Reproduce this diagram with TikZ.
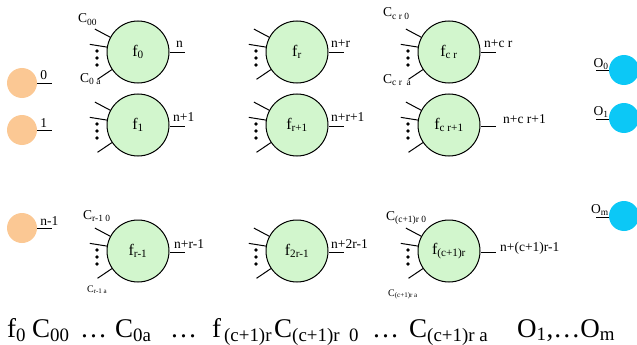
\documentclass[tikz,border=0pt]{standalone}
\usepackage{fontspec}
\setmainfont{Liberation Serif}
\usetikzlibrary{calc}
\definecolor{fgreen}{HTML}{D2F6CD}
\definecolor{iorange}{HTML}{FBC894}
\definecolor{oblue}{HTML}{0CC8F6}
\newcommand\Sb[1]{\textsubscript{#1}}
\begin{document}
\begin{tikzpicture}[x=1pt,y=-1pt,
  fun/.style={circle,draw,line width=1pt,fill=fgreen,minimum size=62pt,inner sep=0pt,font=\fontsize{16}{16}\selectfont},
  inp/.style={circle,fill=iorange,minimum size=30pt,inner sep=0pt},
  outp/.style={circle,fill=oblue,minimum size=30pt,inner sep=0pt},
  wire/.style={line width=1pt},
  lbl/.style={font=\fontsize{13.5}{13.5}\selectfont,inner sep=0pt},
  clbl/.style={font=\fontsize{13.5}{13.5}\selectfont,inner sep=0pt,anchor=base west},
  slbl/.style={font=\fontsize{10}{10}\selectfont,inner sep=0pt,anchor=base west},
  big/.style={font=\fontsize{27}{27}\selectfont,inner sep=0pt,anchor=base west},
]
\useasboundingbox (0,0) rectangle (637,345);

% input circles
\node[inp] (i0) at (22,83) {};
\node[inp] (i1) at (22,130) {};
\node[inp] (in) at (22,228) {};
\foreach \n/\t in {i0/0,i1/1,in/n-1}{
  \coordinate (\n e) at ($(\n.east)+(15,0)$);
  \draw[wire] (\n.east) -- (\n e);
  \node[lbl,anchor=base west] at ($(\n.east)+(3,-3)$) {\t};
}

% output circles
\node[outp] (o0) at (624,70) {};
\node[outp] (o1) at (624,118) {};
\node[outp] (om) at (624,216) {};
\foreach \n/\t in {o0/0,o1/1,om/m}{
  \coordinate (\n w) at ($(\n.west)+(-13,1)$);
  \draw[wire] ($(\n.west)+(0,1)$) -- (\n w);
  \node[lbl,anchor=base east] at ($(\n.west)+(0,-3)$) {O\Sb{\t}};
}

% function circles
\node[fun] (f0)   at (138,52)  {f\Sb{0}};
\node[fun] (f1)   at (138,125) {f\Sb{1}};
\node[fun] (frm)  at (138,251) {f\Sb{r-1}};
\node[fun] (fr)   at (297,52)  {f\Sb{r}};
\node[fun] (frp)  at (297,125) {f\Sb{r+1}};
\node[fun] (f2r)  at (297,251) {f\Sb{2r-1}};
\node[fun] (fcr)  at (449,52)  {f\Sb{c r}};
\node[fun] (fcrp) at (449,125) {f\Sb{c r+1}};
\node[fun] (fc1r) at (449,251) {f\Sb{(c+1)r}};

% input spokes, dots, output wire
\foreach \f in {f0,f1,frm,fr,frp,f2r,fcr,fcrp,fc1r}{
  \foreach \a in {152,171,214}{
    \coordinate (\f s\a) at ($(\f.center)!1.55!(\f.\a)$);
    \draw[wire] (\f.\a) -- (\f s\a);
  }
  \foreach \d in {-1,6,13}{
    \fill ($(\f.center)+(-41,\d)$) circle (1.9pt);
  }
  \coordinate (\f o) at ($(\f.east)+(15,1)$);
  \draw[wire] ($(\f.east)+(0,1)$) -- (\f o);
}

% output labels
\node[lbl,anchor=base west] at (176,48)  {n};
\node[lbl,anchor=base west] at (173,121) {n+1};
\node[lbl,anchor=base west] at (174,248) {n+r-1};
\node[lbl,anchor=base west] at (331,48)  {n+r};
\node[lbl,anchor=base west] at (331,121) {n+r+1};
\node[lbl,anchor=base west] at (331,248) {n+2r-1};
\node[lbl,anchor=base west] at (484,48)  {n+c r};
\node[lbl,anchor=base west] at (503,123) {n+c r+1};
\node[lbl,anchor=base west] at (500,251) {n+(c+1)r-1};

% C labels
\node[clbl] at (78,23)   {C\Sb{00}};
\node[clbl] at (80,82)   {C\Sb{0 a}};
\node[clbl] at (383,17)  {C\Sb{c r 0}};
\node[clbl] at (383,83)  {C\Sb{c r\ \ a}};
\node[clbl] at (83,219)  {C\Sb{r-1 0}};
\node[slbl] at (87,292)  {C\Sb{r-1 a}};
\node[clbl] at (386,220) {C\Sb{(c+1)r 0}};
\node[slbl] at (388,296) {C\Sb{(c+1)r a}};

% bottom line
\node[big] (t1) at (7,337)   {f\Sb{0}};
\node[big] (t2) at (32,337)  {C\Sb{00}};
\node[big] (t3) at (80,337)  {\dots};
\node[big] (t4) at (115,337) {C\Sb{0a}};
\node[big] (t5) at (170,337) {\dots};
\node[big] (t6) at (212,337) {f\hspace{3pt}\Sb{(c+1)r}};
\node[big] (t7) at (274,337) {C\Sb{(c+1)r\ \ 0}};
\node[big] (t8) at (372,337) {\dots};
\node[big] (t9) at (409,337) {C\Sb{(c+1)r a}};
\node[big] (t10) at (517,337) {O\Sb{1},\dots O\Sb{m}};
\end{tikzpicture}
\end{document}
